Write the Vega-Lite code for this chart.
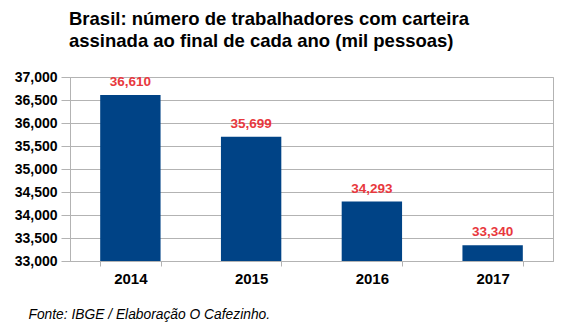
{
  "$schema": "https://vega.github.io/schema/vega-lite/v6.json",
  "width": 483,
  "height": 184,
  "autosize": {"type": "none"},
  "padding": {"left": 70, "top": 77, "right": 18, "bottom": 67},
  "background": "white",
  "config": {
    "font": "Liberation Sans",
    "view": {"stroke": "#b3b3b3", "strokeWidth": 1}
  },
  "title": {
    "text": ["Brasil: número de trabalhadores com carteira", "assinada ao final de cada ano (mil pessoas)"],
    "anchor": "start",
    "frame": "group",
    "dx": -1,
    "fontSize": 18.5,
    "lineHeight": 22,
    "fontWeight": "bold",
    "color": "#000000",
    "font": "Liberation Sans",
    "offset": 20
  },
  "data": {
    "values": [
      {"ano": "2014", "valor": 36610},
      {"ano": "2015", "valor": 35699},
      {"ano": "2016", "valor": 34293},
      {"ano": "2017", "valor": 33340}
    ]
  },
  "encoding": {
    "x": {
      "field": "ano",
      "type": "nominal",
      "scale": {"paddingInner": 0.5, "paddingOuter": 0.25},
      "axis": {
        "title": "Fonte: IBGE / Elaboração O Cafezinho.",
        "titleFontStyle": "italic",
        "titleFontWeight": "normal",
        "titleFontSize": 13.8,
        "titleColor": "#000000",
        "titleAlign": "left",
        "titleAnchor": "start",
        "titleBaseline": "alphabetic",
        "titleX": -42,
        "titleY": 57,
        "labelAngle": 0,
        "labelFontSize": 15,
        "labelFontWeight": "bold",
        "labelColor": "#000000",
        "labelPadding": 5,
        "bandPosition": 0,
        "tickBand": "extent",
        "tickSize": 5,
        "tickColor": "#b3b3b3",
        "domainColor": "#b3b3b3",
        "grid": false
      }
    },
    "y": {
      "field": "valor",
      "type": "quantitative",
      "scale": {"domain": [33000, 37000], "zero": false, "nice": false},
      "axis": {
        "title": null,
        "values": [33000, 33500, 34000, 34500, 35000, 35500, 36000, 36500, 37000],
        "format": ",.0f",
        "labelFontSize": 14,
        "labelFontWeight": "bold",
        "labelColor": "#000000",
        "labelPadding": 4,
        "tickSize": 9,
        "tickColor": "#b3b3b3",
        "domainColor": "#b3b3b3",
        "gridColor": "#b3b3b3",
        "grid": true
      }
    }
  },
  "layer": [
    {"mark": {"type": "bar", "color": "#004386", "clip": true}},
    {
      "mark": {"type": "text", "color": "#e8383d", "fontSize": 13.5, "fontWeight": "bold", "baseline": "bottom", "dy": -6},
      "encoding": {"text": {"field": "valor", "type": "quantitative", "format": ",.0f"}}
    }
  ]
}
